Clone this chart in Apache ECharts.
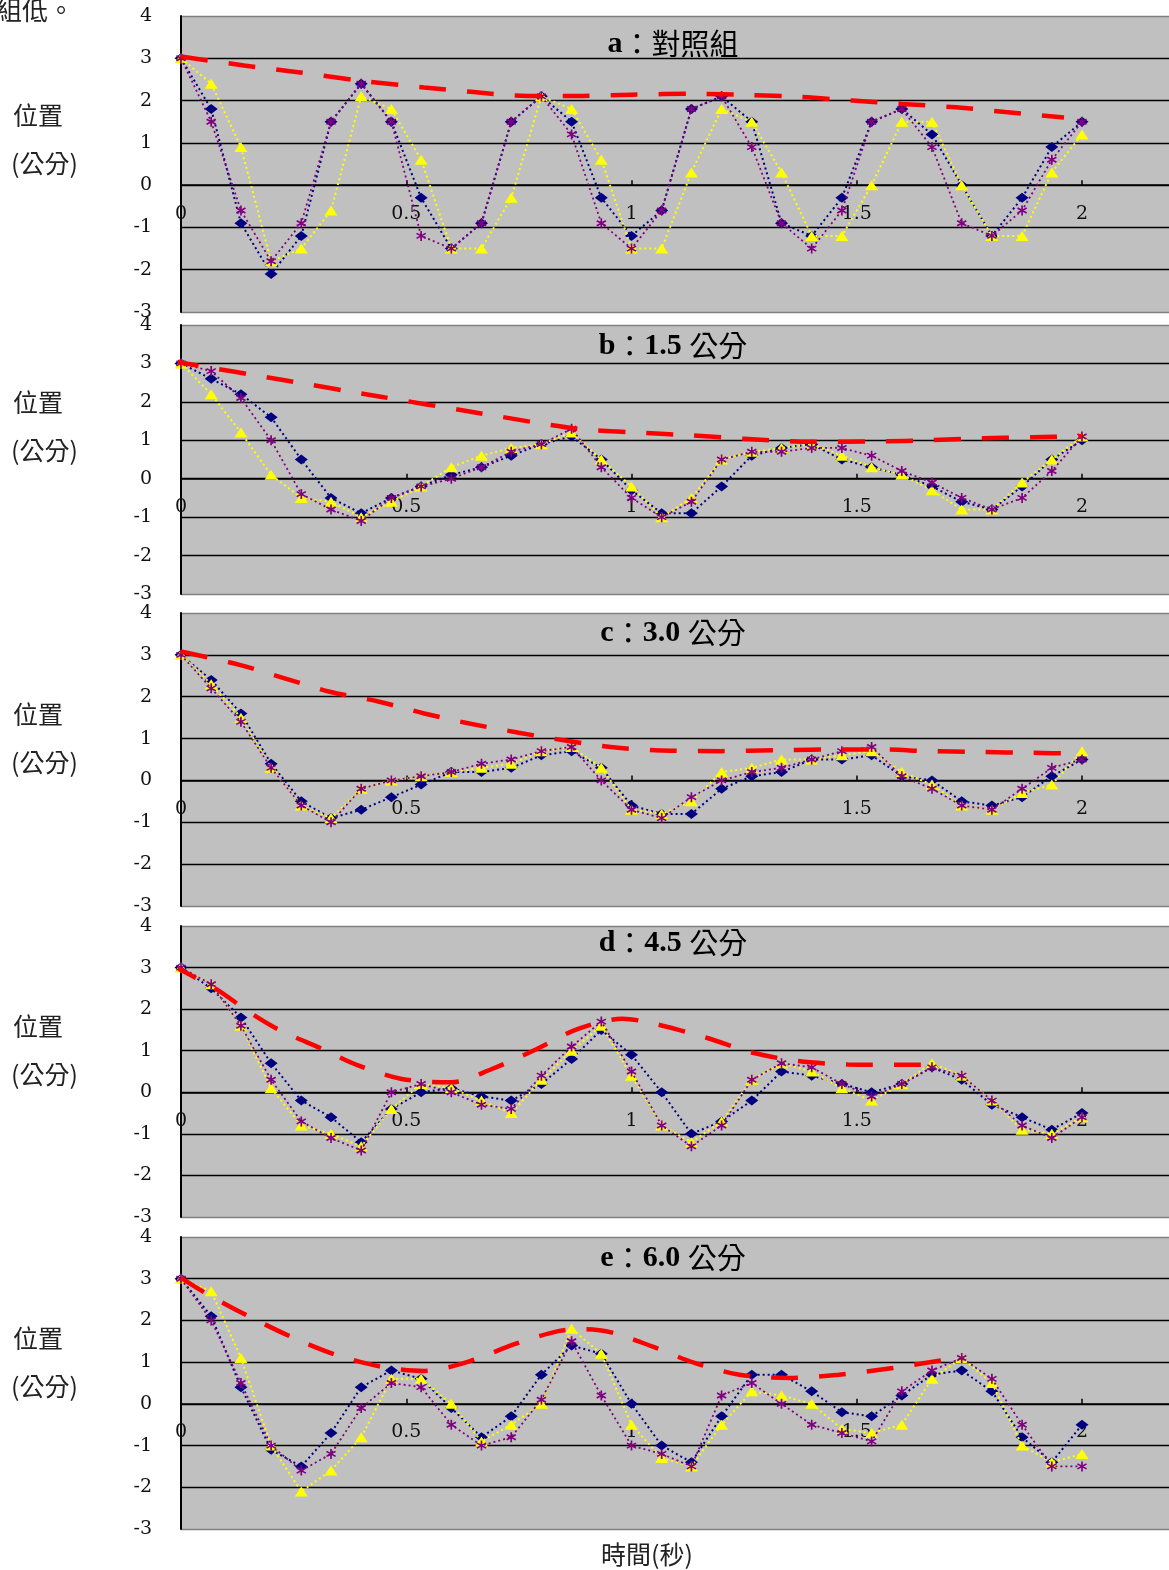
<!DOCTYPE html>
<html>
<head>
<meta charset="utf-8">
<script src="https://cdn.jsdelivr.net/npm/echarts@6/dist/echarts.min.js"></script>
<style>
  html, body { margin: 0; padding: 0; background: #fff; }
  #chart { width: 1169px; height: 1570px; }
</style>
</head>
<body>
<div id="chart"></div>
<script>
// Sampling instants (s), one frame every 1/15 s
const times = [0, 0.067, 0.133, 0.2, 0.267, 0.333, 0.4, 0.467, 0.533, 0.6, 0.667, 0.733, 0.8, 0.867, 0.933,
  1, 1.067, 1.133, 1.2, 1.267, 1.333, 1.4, 1.467, 1.533, 1.6, 1.667, 1.733, 1.8, 1.867, 1.933, 2];

// Panel labels
const panelLetters = ['a', 'b', 'c', 'd', 'e'];
const panelNumbers = ['', '1.5', '3.0', '4.5', '6.0'];
const panelWords = ['對照組', '公分', '公分', '公分', '公分'];

// Position (cm) — three trials per panel
const navyA = [3, 1.8, -0.9, -2.1, -1.2, 1.5, 2.4, 1.5, -0.3, -1.5, -0.9, 1.5, 2.1, 1.5, -0.3, -1.2,
  -0.6, 1.8, 2.1, 1.5, -0.9, -1.2, -0.3, 1.5, 1.8, 1.2, 0, -1.2, -0.3, 0.9, 1.5];
const yellowA = [3, 2.4, 0.9, -1.8, -1.5, -0.6, 2.1, 1.8, 0.6, -1.5, -1.5, -0.3, 2.1, 1.8, 0.6, -1.5,
  -1.5, 0.3, 1.8, 1.5, 0.3, -1.2, -1.2, 0, 1.5, 1.5, 0, -1.2, -1.2, 0.3, 1.2];
const purpleA = [3, 1.5, -0.6, -1.8, -0.9, 1.5, 2.4, 1.5, -1.2, -1.5, -0.9, 1.5, 2.1, 1.2, -0.9, -1.5,
  -0.6, 1.8, 2.1, 0.9, -0.9, -1.5, -0.6, 1.5, 1.8, 0.9, -0.9, -1.2, -0.6, 0.6, 1.5];

const navyB = [3, 2.6, 2.2, 1.6, 0.5, -0.5, -0.9, -0.5, -0.2, 0.1, 0.3, 0.6, 0.9, 1.1, 0.5, -0.3,
  -0.9, -0.9, -0.2, 0.6, 0.8, 0.9, 0.5, 0.3, 0.1, -0.2, -0.6, -0.8, -0.2, 0.5, 1.0];
const yellowB = [3, 2.2, 1.2, 0.1, -0.5, -0.6, -1.0, -0.6, -0.2, 0.3, 0.6, 0.8, 0.9, 1.2, 0.5, -0.2,
  -1.0, -0.5, 0.5, 0.7, 0.8, 0.9, 0.6, 0.3, 0.1, -0.3, -0.8, -0.8, -0.1, 0.5, 1.1];
const purpleB = [3, 2.8, 2.1, 1.0, -0.4, -0.8, -1.1, -0.5, -0.2, 0, 0.3, 0.7, 0.9, 1.3, 0.3, -0.5,
  -1.0, -0.6, 0.5, 0.7, 0.7, 0.8, 0.8, 0.6, 0.2, -0.1, -0.5, -0.8, -0.5, 0.2, 1.1];

const navyC = [3, 2.4, 1.6, 0.4, -0.5, -0.9, -0.7, -0.4, -0.1, 0.2, 0.2, 0.3, 0.6, 0.7, 0.3, -0.6,
  -0.8, -0.8, -0.2, 0.1, 0.2, 0.5, 0.5, 0.6, 0.1, 0, -0.5, -0.6, -0.4, 0.1, 0.5];
const yellowC = [3, 2.3, 1.5, 0.3, -0.6, -0.9, -0.2, 0, 0.1, 0.2, 0.3, 0.4, 0.7, 0.8, 0.3, -0.7,
  -0.8, -0.5, 0.2, 0.3, 0.5, 0.5, 0.6, 0.7, 0.2, -0.1, -0.6, -0.7, -0.3, -0.1, 0.7];
const purpleC = [3, 2.2, 1.4, 0.3, -0.6, -1.0, -0.2, 0, 0.1, 0.2, 0.4, 0.5, 0.7, 0.8, 0, -0.7,
  -0.9, -0.4, 0, 0.2, 0.3, 0.5, 0.7, 0.8, 0.1, -0.2, -0.6, -0.7, -0.2, 0.3, 0.5];

const navyD = [3, 2.5, 1.8, 0.7, -0.2, -0.6, -1.2, -0.4, 0, 0.1, -0.1, -0.2, 0.2, 0.8, 1.5, 0.9,
  0, -1.0, -0.7, -0.2, 0.5, 0.4, 0.2, 0, 0.2, 0.6, 0.3, -0.3, -0.6, -0.9, -0.5];
const yellowD = [3, 2.6, 1.6, 0.1, -0.8, -1.0, -1.3, -0.4, 0.2, 0.1, -0.2, -0.5, 0.3, 1.0, 1.6, 0.4,
  -0.8, -1.2, -0.7, 0.3, 0.7, 0.5, 0.1, -0.2, 0.2, 0.7, 0.4, -0.2, -0.9, -1.0, -0.6];
const purpleD = [3, 2.6, 1.6, 0.3, -0.7, -1.1, -1.4, 0, 0.2, 0, -0.3, -0.4, 0.4, 1.1, 1.7, 0.5,
  -0.8, -1.3, -0.8, 0.3, 0.7, 0.6, 0.2, -0.1, 0.2, 0.6, 0.4, -0.2, -0.8, -1.1, -0.6];

const navyE = [3, 2.1, 0.4, -1.1, -1.5, -0.7, 0.4, 0.8, 0.6, -0.1, -0.8, -0.3, 0.7, 1.4, 1.2, 0,
  -1.0, -1.4, -0.3, 0.7, 0.7, 0.3, -0.2, -0.3, 0.2, 0.7, 0.8, 0.3, -0.8, -1.4, -0.5];
const yellowE = [3, 2.7, 1.1, -1.0, -2.1, -1.6, -0.8, 0.6, 0.6, 0, -0.9, -0.5, 0, 1.8, 1.2, -0.5,
  -1.3, -1.5, -0.5, 0.3, 0.2, 0, -0.6, -0.7, -0.5, 0.6, 1.1, 0.5, -1.0, -1.4, -1.2];
const purpleE = [3, 2.0, 0.5, -1.0, -1.6, -1.2, -0.1, 0.5, 0.4, -0.5, -1.0, -0.8, 0.1, 1.5, 0.2, -1.0,
  -1.2, -1.5, 0.2, 0.5, 0, -0.5, -0.7, -0.9, 0.3, 0.8, 1.1, 0.6, -0.5, -1.5, -1.5];

// Hand-drawn peak envelopes [time, position]
const envA = [[0, 3.04], [0.14, 2.83], [0.26, 2.67], [0.39, 2.48], [0.54, 2.31], [0.65, 2.2], [0.77, 2.11],
  [0.89, 2.11], [1.0, 2.14], [1.14, 2.16], [1.26, 2.13], [1.37, 2.09], [1.49, 2.0], [1.6, 1.92],
  [1.72, 1.84], [1.83, 1.73], [1.96, 1.6]];
const envB = [[-0.02, 3.06], [0.22, 2.58], [0.44, 2.14], [0.65, 1.73], [0.88, 1.3], [1.0, 1.21],
  [1.13, 1.13], [1.25, 1.04], [1.4, 0.96], [1.55, 0.97], [1.66, 1.0], [1.77, 1.05], [1.89, 1.08], [2.0, 1.11]];
const envC = [[0, 3.08], [0.13, 2.76], [0.23, 2.44], [0.33, 2.12], [0.44, 1.88], [0.54, 1.6], [0.64, 1.36],
  [0.75, 1.14], [0.86, 0.94], [0.97, 0.78], [1.09, 0.71], [1.2, 0.7], [1.32, 0.72], [1.43, 0.74],
  [1.55, 0.74], [1.66, 0.7], [1.77, 0.68], [1.89, 0.66], [1.99, 0.64]];
const envD = [[-0.02, 3.05], [0.08, 2.47], [0.15, 1.94], [0.22, 1.49], [0.31, 1.06], [0.39, 0.66],
  [0.49, 0.32], [0.6, 0.24], [0.69, 0.56], [0.79, 1.04], [0.88, 1.52], [0.98, 1.77], [1.05, 1.65],
  [1.17, 1.3], [1.27, 0.95], [1.37, 0.75], [1.48, 0.67], [1.6, 0.66], [1.68, 0.67]];
const envE = [[0, 3.02], [0.06, 2.62], [0.15, 2.1], [0.25, 1.58], [0.34, 1.19], [0.44, 0.9], [0.54, 0.79],
  [0.64, 1.02], [0.74, 1.43], [0.84, 1.75], [0.9, 1.79], [0.96, 1.7], [1.05, 1.36], [1.14, 0.98],
  [1.24, 0.7], [1.35, 0.62], [1.46, 0.7], [1.58, 0.86], [1.72, 1.1]];

const navySets = [navyA, navyB, navyC, navyD, navyE];
const yellowSets = [yellowA, yellowB, yellowC, yellowD, yellowE];
const purpleSets = [purpleA, purpleB, purpleC, purpleD, purpleE];
const envelopes = [envA, envB, envC, envD, envE];

// Layout of the five stacked plots
const gridTops = [16, 325, 613, 926, 1237];
const gridHeights = [296, 269, 293, 291, 292];
const GRID_LEFT = 181;
const PX_PER_SECOND = 450.5;
const X_MAX = (1169 - GRID_LEFT) / PX_PER_SECOND;
const Y_MIN = -3, Y_MAX = 4;

const NAVY = '#000080', YELLOW = '#FFFF00', PURPLE = '#800080', RED = '#FF0000';
const SERIF = '"DejaVu Serif", "Liberation Serif", serif';
const CJK = '"Noto Sans CJK TC", "Noto Sans CJK SC", sans-serif';

// Six-armed asterisk marker built from three thin bars
function asteriskPath() {
  const c = 5, L = 5, w = 0.8;
  let d = '';
  [90, 30, 150].forEach(function (deg) {
    const a = deg * Math.PI / 180, dx = Math.cos(a), dy = Math.sin(a), nx = -dy, ny = dx;
    const p = [
      [c + L * dx + w * nx, c + L * dy + w * ny],
      [c + L * dx - w * nx, c + L * dy - w * ny],
      [c - L * dx - w * nx, c - L * dy - w * ny],
      [c - L * dx + w * nx, c - L * dy + w * ny]
    ];
    d += 'M' + p.map(function (q) { return q[0].toFixed(3) + ',' + q[1].toFixed(3); }).join('L') + 'Z';
  });
  return 'path://' + d;
}
const ASTERISK = asteriskPath();

function pairs(values) {
  return times.map(function (t, i) { return [t, values[i]]; });
}

const grids = [], xAxes = [], yAxes = [], series = [], graphics = [];

for (let i = 0; i < 5; i++) {
  grids.push({
    left: GRID_LEFT, right: 0, top: gridTops[i], height: gridHeights[i],
    show: true, backgroundColor: '#c0c0c0', borderWidth: 0
  });
  // time axis sits on the zero line: lift it from the bottom edge by the -3..0 span
  const zeroLift = gridHeights[i] * (0 - Y_MIN) / (Y_MAX - Y_MIN);
  xAxes.push({
    gridIndex: i, type: 'value', min: 0, max: X_MAX, interval: 0.5,
    position: 'bottom', offset: -zeroLift,
    axisLine: { show: true, onZero: false, lineStyle: { color: '#000', width: 1.5 } },
    axisTick: { show: true, inside: true, length: 5, lineStyle: { color: '#000', width: 1.5 } },
    axisLabel: { margin: 19, showMaxLabel: false, fontFamily: SERIF, fontSize: 19, color: '#111' },
    splitLine: { show: false }
  });
  yAxes.push({
    gridIndex: i, type: 'value', min: Y_MIN, max: Y_MAX, interval: 1,
    axisLine: { show: true, lineStyle: { color: '#000', width: 2 } },
    axisTick: { show: false },
    axisLabel: { margin: 29, fontFamily: SERIF, fontSize: 19, color: '#111' },
    splitLine: {
      show: true,
      lineStyle: { color: ['#808080', '#000', '#000', '#000', '#000', '#000', '#000', '#808080'], width: 1.3 }
    }
  });

  const dotted = [2, 3];
  series.push({
    type: 'line', xAxisIndex: i, yAxisIndex: i, data: pairs(navySets[i]),
    symbol: 'diamond', symbolSize: [13, 10], z: 2,
    itemStyle: { color: NAVY }, lineStyle: { color: NAVY, width: 2, type: dotted }
  });
  series.push({
    type: 'line', xAxisIndex: i, yAxisIndex: i, data: pairs(yellowSets[i]),
    symbol: 'triangle', symbolSize: [13, 10], z: 3,
    itemStyle: { color: YELLOW }, lineStyle: { color: YELLOW, width: 2, type: dotted }
  });
  series.push({
    type: 'line', xAxisIndex: i, yAxisIndex: i, data: pairs(purpleSets[i]),
    symbol: ASTERISK, symbolSize: [10, 10], z: 4,
    itemStyle: { color: PURPLE }, lineStyle: { color: PURPLE, width: 1.8, type: dotted }
  });
  series.push({
    type: 'line', xAxisIndex: i, yAxisIndex: i, data: envelopes[i],
    symbol: 'none', smooth: 0.3, clip: false, z: 5,
    lineStyle: { color: RED, width: 4.5, type: [27, 21] }
  });

  // Panel heading
  const heading = panelNumbers[i]
    ? '{l|' + panelLetters[i] + '}{c|：}{l|' + panelNumbers[i] + ' }{c|' + panelWords[i] + '}'
    : '{l|' + panelLetters[i] + '}{c|：' + panelWords[i] + '}';
  const headingY = [44, 346, 633, 943, 1258][i];
  graphics.push({
    type: 'text', x: 673, y: headingY, z: 10,
    style: {
      text: heading, fill: '#000',
      align: 'center', verticalAlign: 'middle', textAlign: 'center', textVerticalAlign: 'middle',
      rich: {
        l: { fontFamily: '"Liberation Serif", serif', fontWeight: 'bold', fontSize: 30, fill: '#000', color: '#000' },
        c: { fontFamily: CJK, fontSize: 29, fill: '#000', color: '#000' }
      }
    }
  });

  // Axis name beside each plot
  const nameY = [115, 402, 714, 1026, 1338][i];
  graphics.push({
    type: 'text', x: 13, y: nameY,
    style: { text: '位置', font: '25px ' + CJK, fill: '#222', verticalAlign: 'middle', textVerticalAlign: 'middle' }
  });
  graphics.push({
    type: 'text', x: 11, y: nameY + 48,
    style: { text: '(公分)', font: '25px ' + CJK, fill: '#222', verticalAlign: 'middle', textVerticalAlign: 'middle' }
  });
}

graphics.push({
  type: 'text', x: -4, y: 10,
  style: { text: '組低。', font: '26px ' + CJK, fill: '#222', verticalAlign: 'middle', textVerticalAlign: 'middle' }
});
graphics.push({
  type: 'text', x: 647, y: 1554,
  style: {
    text: '時間(秒)', font: '25px ' + CJK, fill: '#222',
    align: 'center', verticalAlign: 'middle', textAlign: 'center', textVerticalAlign: 'middle'
  }
});

const chart = echarts.init(document.getElementById('chart'), null, { renderer: 'canvas' });
chart.setOption({
  animation: false,
  backgroundColor: '#fff',
  grid: grids,
  xAxis: xAxes,
  yAxis: yAxes,
  series: series,
  graphic: graphics
});
</script>
</body>
</html>
